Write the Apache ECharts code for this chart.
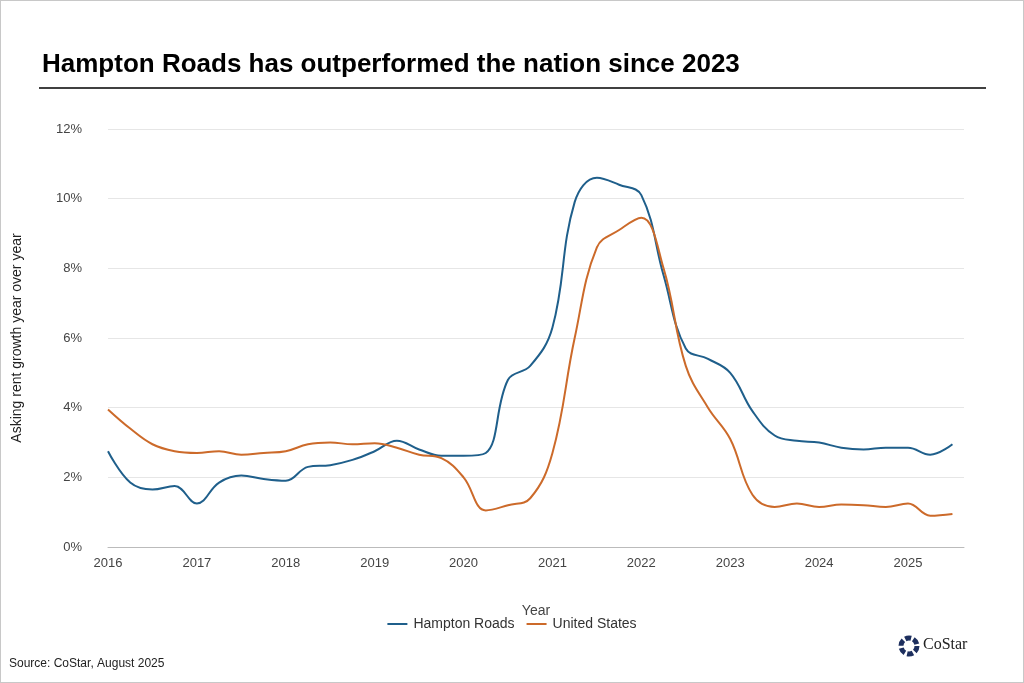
<!DOCTYPE html>
<html>
<head>
<meta charset="utf-8">
<script src="https://cdn.jsdelivr.net/npm/echarts@6/dist/echarts.min.js"></script>
<style>
html, body { margin: 0; padding: 0; background: #fff; }
#chart { width: 1024px; height: 683px; box-sizing: border-box; border: 1px solid #c8c8c8; }
</style>
</head>
<body>
<div id="chart"></div>
<script>
// quarterly points, 2016 Q1 .. 2025 Q3
var years = [];
for (var i = 0; i < 39; i++) years.push(2016 + i * 0.25);

var hampton = [2.75, 1.85, 1.65, 1.75, 1.25, 1.85, 2.05, 1.95, 1.9, 2.3, 2.35, 2.5, 2.75, 3.05, 2.8, 2.62,
    2.62, 2.7, 4.8, 5.2, 6.3, 9.9, 10.6, 10.4, 10.1, 7.8, 5.7, 5.4, 5.0, 3.9, 3.2, 3.05,
    3.0, 2.85, 2.8, 2.85, 2.85, 2.65, 2.95];
var usa = [3.95, 3.4, 2.95, 2.75, 2.7, 2.75, 2.65, 2.7, 2.75, 2.95, 3.0, 2.95, 2.98, 2.85, 2.65, 2.55,
    2.0, 1.05, 1.2, 1.4, 2.7, 6.0, 8.6, 9.1, 9.45, 8.0, 5.2, 4.0, 3.1, 1.5, 1.15, 1.25,
    1.15, 1.22, 1.2, 1.15, 1.25, 0.9, 0.95];

function pairs(vals) {
    return vals.map(function (v, i) { return [years[i], v]; });
}

var myChart = echarts.init(document.getElementById('chart'));
var option = {
    animation: false,
    textStyle: { fontFamily: 'Arial, Liberation Sans, sans-serif' },
    title: {
        text: 'Hampton Roads has outperformed the nation since 2023',
        left: 36,
        top: 46,
        textStyle: { fontSize: 26, fontWeight: 'bold', color: '#000' }
    },
    graphic: [
        { type: 'line', shape: { x1: 38, y1: 87, x2: 985, y2: 87 }, style: { stroke: '#000', lineWidth: 1.5 } },
        { type: 'text', left: 8, top: 657, style: { text: 'Source: CoStar, August 2025', fontSize: 12, fill: '#222' } },
        { type: 'text', left: 922, top: 636, style: { text: 'CoStar', fontSize: 16, fill: '#222', fontFamily: 'Liberation Serif, serif' } },
        { type: 'circle', shape: { cx: 908, cy: 645, r: 8 }, style: { fill: 'none', stroke: '#1d2f5e', lineWidth: 5, lineDash: [6, 2.4] } }
    ],
    legend: {
        bottom: 46,
        left: 'center',
        icon: 'path://M0,0 H20 V2 H0 Z',
        itemWidth: 22,
        itemHeight: 2,
        itemGap: 12,
        textStyle: { fontSize: 14, color: '#333' },
        data: ['Hampton Roads', 'United States']
    },
    grid: { left: 107, right: 59, top: 128, bottom: 135 },
    xAxis: {
        type: 'value',
        min: 2016,
        max: 2025.63,
        interval: 1,
        name: 'Year',
        nameLocation: 'middle',
        nameGap: 57,
        nameTextStyle: { fontSize: 14, color: '#444' },
        axisLine: { lineStyle: { color: '#bbb' } },
        axisTick: { show: false },
        splitLine: { show: false },
        axisLabel: { fontSize: 13, color: '#444', showMaxLabel: false, margin: 10,
            formatter: function (v) { return String(v); } }
    },
    yAxis: {
        type: 'value',
        min: 0,
        max: 12,
        interval: 2,
        name: 'Asking rent growth year over year',
        nameLocation: 'middle',
        nameGap: 84,
        nameTextStyle: { fontSize: 14, color: '#222' },
        axisLine: { show: false },
        axisTick: { show: false },
        splitLine: { lineStyle: { color: '#e6e6e6' } },
        axisLabel: { formatter: '{value}%', fontSize: 13, color: '#444', margin: 26 }
    },
    series: [
        {
            name: 'Hampton Roads', type: 'line', smooth: 0.4, showSymbol: false,
            lineStyle: { width: 2, color: '#1f5f8b' }, itemStyle: { color: '#1f5f8b' },
            data: pairs(hampton)
        },
        {
            name: 'United States', type: 'line', smooth: 0.4, showSymbol: false,
            lineStyle: { width: 2, color: '#cc6a2a' }, itemStyle: { color: '#cc6a2a' },
            data: pairs(usa)
        }
    ]
};
myChart.setOption(option);
</script>
</body>
</html>
